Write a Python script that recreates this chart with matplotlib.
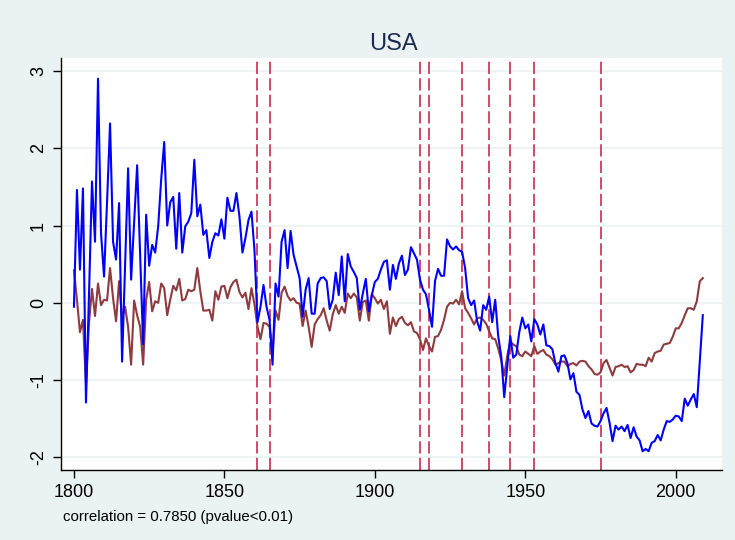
import numpy as np
import matplotlib
matplotlib.use("Agg")
import matplotlib.pyplot as plt

# Annual series, 1800-2009
years = np.arange(1800, 2010)

series_a = [
    -0.05, 1.46, 0.43, 1.48, -1.29, 0.10, 1.57, 0.79, 2.90, 0.90,
    0.34, 1.30, 2.32, 0.79, 0.56, 1.29, -0.76, 0.50, 1.74, 0.30,
    1.04, 1.78, 0.60, -0.54, 1.14, 0.48, 0.75, 0.65, 0.99, 1.60,
    2.08, 1.00, 1.30, 1.37, 0.70, 1.42, 0.65, 0.99, 1.05, 1.16,
    1.85, 1.12, 1.27, 0.88, 0.94, 0.58, 0.79, 0.90, 0.87, 1.08,
    0.83, 1.36, 1.19, 1.19, 1.42, 1.12, 0.65, 0.84, 1.07, 1.18,
    0.68, -0.25, -0.05, 0.23, -0.05, -0.22, -0.80, 0.25, 0.08, 0.79,
    0.94, 0.45, 0.93, 0.62, 0.47, 0.32, -0.18, 0.17, 0.32, -0.14,
    -0.14, 0.25, 0.32, 0.33, 0.28, -0.08, 0.04, 0.39, 0.10, 0.60,
    0.02, 0.63, 0.47, 0.40, 0.32, -0.09, 0.12, 0.31, -0.11, 0.10,
    0.27, 0.31, 0.43, 0.53, 0.55, 0.17, 0.49, 0.31, 0.51, 0.61,
    0.36, 0.43, 0.72, 0.64, 0.56, 0.30, 0.17, 0.11, -0.09, -0.31,
    0.28, 0.44, 0.35, 0.35, 0.82, 0.73, 0.69, 0.73, 0.68, 0.66,
    0.45, 0.06, -0.03, 0.03, -0.24, -0.36, -0.03, -0.09, 0.08, -0.25,
    0.04, -0.43, -0.69, -1.22, -0.82, -0.43, -0.71, -0.67, -0.38, -0.19,
    -0.33, -0.28, -0.50, -0.21, -0.28, -0.41, -0.28, -0.55, -0.56, -0.60,
    -0.78, -0.89, -0.69, -0.68, -0.78, -0.99, -0.91, -1.15, -1.19, -1.38,
    -1.49, -1.40, -1.56, -1.59, -1.60, -1.53, -1.43, -1.36, -1.55, -1.79,
    -1.59, -1.64, -1.60, -1.66, -1.58, -1.75, -1.61, -1.73, -1.78, -1.92,
    -1.89, -1.92, -1.81, -1.79, -1.71, -1.78, -1.64, -1.53, -1.54, -1.51,
    -1.46, -1.47, -1.53, -1.24, -1.33, -1.25, -1.18, -1.35, -0.75, -0.16,
]

series_b = [
    0.42, 0.04, -0.38, -0.22, -1.06, -0.26, 0.18, -0.17, 0.25, -0.03,
    0.04, 0.03, 0.45, 0.06, -0.24, 0.28, -0.20, -0.05, -0.31, -0.80,
    0.03, -0.16, -0.31, -0.80, 0.04, 0.27, -0.11, 0.02, 0.00, 0.25,
    0.19, -0.16, 0.04, 0.22, 0.16, 0.31, 0.03, 0.05, 0.17, 0.15,
    0.17, 0.45, 0.15, -0.10, -0.10, -0.09, -0.23, 0.15, 0.04, 0.21,
    0.22, 0.06, 0.20, 0.27, 0.30, 0.14, 0.07, 0.13, -0.08, 0.19,
    -0.02, -0.31, -0.47, -0.26, -0.27, -0.31, -0.64, -0.10, -0.22, 0.13,
    0.21, 0.09, 0.03, 0.06, 0.00, -0.01, -0.30, -0.10, -0.31, -0.57,
    -0.28, -0.21, -0.16, -0.07, -0.23, -0.36, -0.15, -0.03, -0.14, -0.05,
    -0.13, 0.12, 0.06, 0.12, 0.07, -0.23, 0.01, 0.03, -0.23, 0.11,
    0.06, -0.01, 0.04, -0.08, 0.02, -0.40, -0.19, -0.30, -0.21, -0.18,
    -0.26, -0.29, -0.25, -0.37, -0.39, -0.47, -0.61, -0.46, -0.56, -0.63,
    -0.44, -0.43, -0.35, -0.22, -0.05, 0.00, -0.01, 0.04, -0.02, 0.15,
    -0.07, -0.13, -0.20, -0.28, -0.20, -0.19, -0.22, -0.27, -0.37, -0.46,
    -0.47, -0.59, -0.74, -0.94, -0.69, -0.50, -0.54, -0.56, -0.67, -0.69,
    -0.63, -0.66, -0.69, -0.56, -0.66, -0.63, -0.61, -0.67, -0.69, -0.73,
    -0.80, -0.78, -0.76, -0.76, -0.82, -0.79, -0.78, -0.81, -0.76, -0.75,
    -0.76, -0.82, -0.86, -0.92, -0.93, -0.90, -0.78, -0.74, -0.84, -0.94,
    -0.83, -0.82, -0.80, -0.83, -0.82, -0.90, -0.87, -0.79, -0.80, -0.80,
    -0.82, -0.71, -0.76, -0.65, -0.63, -0.62, -0.54, -0.53, -0.52, -0.44,
    -0.33, -0.33, -0.26, -0.16, -0.07, -0.07, -0.09, 0.02, 0.28, 0.32,
]

event_years = [1861, 1865, 1915, 1918, 1929, 1938, 1945, 1953, 1975]

x_ticks = [1800, 1850, 1900, 1950, 2000]
y_ticks = [-2, -1, 0, 1, 2, 3]

title_text = "USA"
note_text = "correlation = 0.7850 (pvalue<0.01)"

outer_bg = "#EAF2F3"
blue = "#0000FF"
maroon = "#8E3B3F"
event_color = "#C8193F"

plt.rcParams["font.family"] = ["Liberation Sans Narrow", "Liberation Sans", "DejaVu Sans"]

fig = plt.figure(figsize=(7.35, 5.4), dpi=100, facecolor=outer_bg)
ax = fig.add_axes([0.083, 0.130, 0.899, 0.763])
ax.set_facecolor("white")

# horizontal grid at the y ticks
for yt in y_ticks:
    ax.axhline(yt, color=outer_bg, lw=1.2, zorder=0)

# event markers
for ey in event_years:
    ax.axvline(ey, color=event_color, lw=1.1, dashes=(8, 2.8), zorder=1)

ax.plot(years, series_a, color=blue, lw=1.5, zorder=3)
ax.plot(years, series_b, color=maroon, lw=1.5, zorder=2)

ax.set_xlim(1795.7, 2015.3)
ax.set_ylim(-2.16, 3.17)
ax.set_xticks(x_ticks)
ax.set_yticks(y_ticks)
ax.set_yticklabels([str(v) for v in y_ticks], rotation=90, va="center")

for side in ["top", "right"]:
    ax.spines[side].set_visible(False)
for side in ["left", "bottom"]:
    ax.spines[side].set_color("black")
    ax.spines[side].set_linewidth(1.0)

ax.tick_params(axis="both", direction="out", length=6, width=1.0,
               labelsize=13, colors="black", pad=4)

fig.text(0.535, 0.918, title_text, ha="center", va="center",
         fontsize=17, color="#1C2A4F")
fig.text(0.086, 0.043, note_text, ha="left", va="center",
         fontsize=10.8, color="black")

fig.savefig("out.png", dpi=100, facecolor=outer_bg)
